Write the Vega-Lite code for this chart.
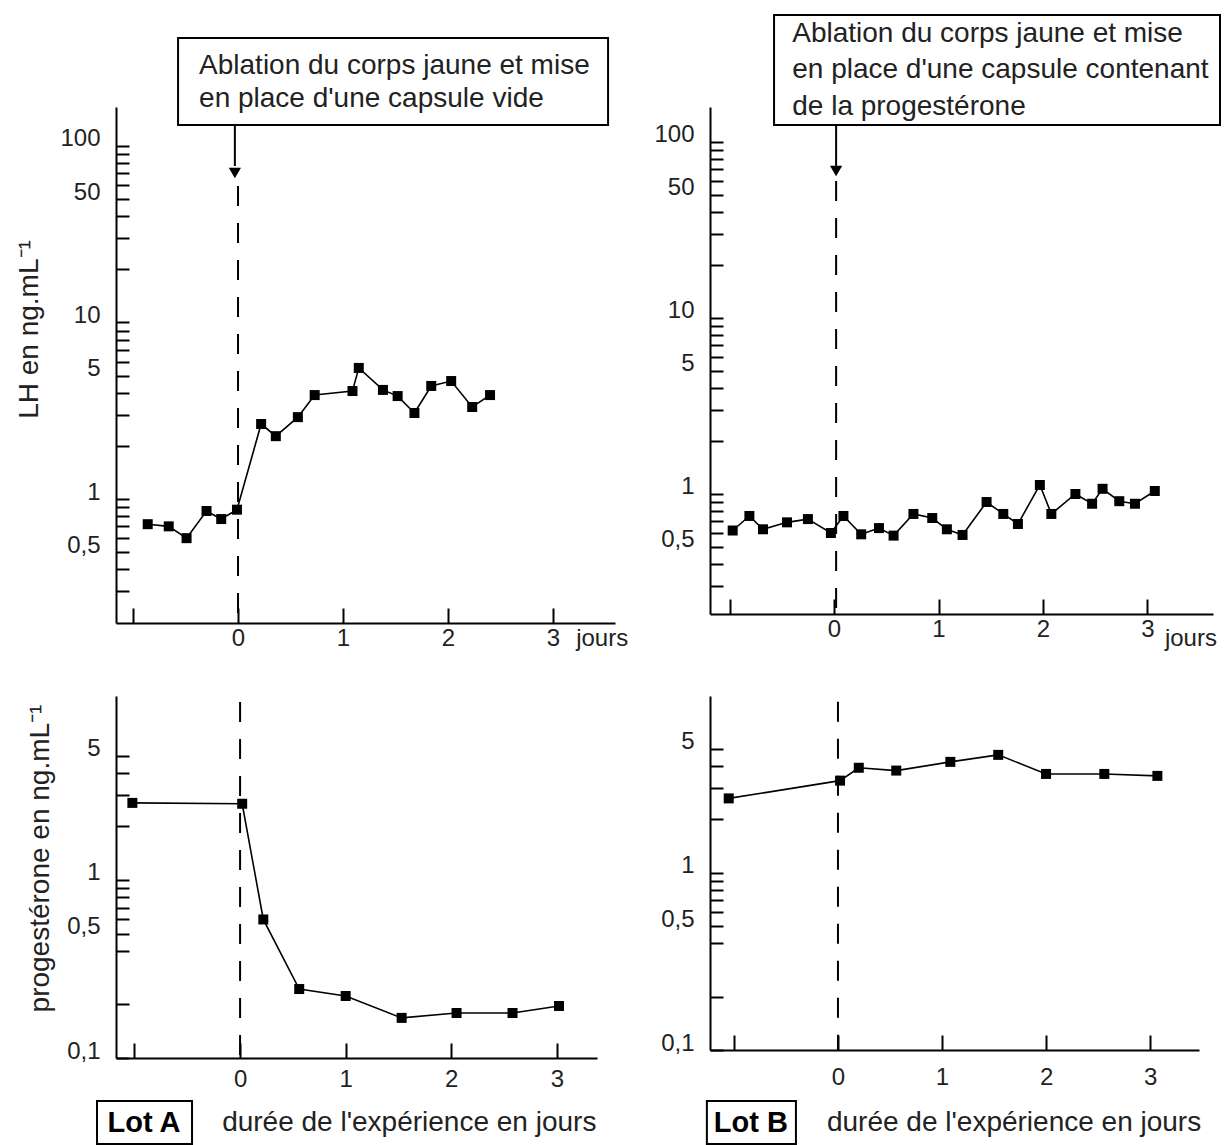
{
  "$schema": "https://vega.github.io/schema/vega-lite/v6.json",
  "background": "white",
  "padding": {"left": 15, "top": 13, "right": 0, "bottom": 0},
  "autosize": {"type": "pad"},
  "bounds": "flush",
  "columns": 2,
  "align": "all",
  "spacing": {"row": 73, "column": 91},
  "datasets": {
    "lhA": [
      {"jour": -0.86, "valeur": 0.72}, {"jour": -0.66, "valeur": 0.70}, {"jour": -0.49, "valeur": 0.60},
      {"jour": -0.30, "valeur": 0.855}, {"jour": -0.16, "valeur": 0.77}, {"jour": -0.01, "valeur": 0.87},
      {"jour": 0.22, "valeur": 2.66}, {"jour": 0.36, "valeur": 2.27}, {"jour": 0.57, "valeur": 2.91},
      {"jour": 0.73, "valeur": 3.88}, {"jour": 1.09, "valeur": 4.09}, {"jour": 1.15, "valeur": 5.53},
      {"jour": 1.38, "valeur": 4.15}, {"jour": 1.52, "valeur": 3.83}, {"jour": 1.68, "valeur": 3.07},
      {"jour": 1.84, "valeur": 4.37}, {"jour": 2.03, "valeur": 4.66}, {"jour": 2.23, "valeur": 3.32},
      {"jour": 2.40, "valeur": 3.88}
    ],
    "lhB": [
      {"jour": -0.97, "valeur": 0.62}, {"jour": -0.81, "valeur": 0.75}, {"jour": -0.68, "valeur": 0.63},
      {"jour": -0.45, "valeur": 0.69}, {"jour": -0.25, "valeur": 0.72}, {"jour": -0.03, "valeur": 0.60},
      {"jour": 0.09, "valeur": 0.75}, {"jour": 0.26, "valeur": 0.59}, {"jour": 0.43, "valeur": 0.64},
      {"jour": 0.57, "valeur": 0.58}, {"jour": 0.76, "valeur": 0.77}, {"jour": 0.94, "valeur": 0.73},
      {"jour": 1.08, "valeur": 0.63}, {"jour": 1.23, "valeur": 0.585}, {"jour": 1.46, "valeur": 0.90},
      {"jour": 1.62, "valeur": 0.77}, {"jour": 1.76, "valeur": 0.675}, {"jour": 1.97, "valeur": 1.125},
      {"jour": 2.08, "valeur": 0.77}, {"jour": 2.31, "valeur": 1.0}, {"jour": 2.47, "valeur": 0.88},
      {"jour": 2.57, "valeur": 1.07}, {"jour": 2.73, "valeur": 0.91}, {"jour": 2.88, "valeur": 0.88},
      {"jour": 3.07, "valeur": 1.04}
    ],
    "progA": [
      {"jour": -1.02, "valeur": 2.71}, {"jour": 0.02, "valeur": 2.68}, {"jour": 0.22, "valeur": 0.60},
      {"jour": 0.56, "valeur": 0.244}, {"jour": 1.0, "valeur": 0.223}, {"jour": 1.53, "valeur": 0.168},
      {"jour": 2.05, "valeur": 0.179}, {"jour": 2.58, "valeur": 0.179}, {"jour": 3.02, "valeur": 0.196}
    ],
    "progB": [
      {"jour": -1.05, "valeur": 2.62}, {"jour": 0.02, "valeur": 3.3}, {"jour": 0.2, "valeur": 3.9},
      {"jour": 0.56, "valeur": 3.76}, {"jour": 1.08, "valeur": 4.21}, {"jour": 1.54, "valeur": 4.61},
      {"jour": 2.0, "valeur": 3.6}, {"jour": 2.56, "valeur": 3.6}, {"jour": 3.07, "valeur": 3.51}
    ]
  },
  "config": {
    "view": {"stroke": null},
    "axis": {
      "grid": false, "domainColor": "black", "domainWidth": 2, "tickColor": "black", "tickWidth": 2,
      "labelFont": "Liberation Sans", "labelFontSize": 24, "labelColor": "#222",
      "titleFont": "Liberation Sans", "titleFontSize": 28, "titleFontWeight": "normal", "titleColor": "#222",
      "labelOverlap": false, "labelBound": false, "labelFlush": false
    },
    "axisX": {"tickSize": -15, "labelPadding": 18},
    "axisY": {"tickSize": -13, "labelPadding": 29, "labelBaseline": "alphabetic", "titleBaseline": "middle", "titleAlign": "center"},
    "text": {"font": "Liberation Sans", "fontSize": 28, "color": "#222"}
  },
  "concat": [
    {
      "width": 499, "height": 516,
      "layer": [
        {
          "data": {"name": "lhA"},
          "mark": {"type": "line", "color": "black", "strokeWidth": 1.6},
          "encoding": {
            "x": {"field": "jour", "type": "quantitative", "scale": {"domain": [-1.162, 3.59], "nice": false, "zero": false},
                  "axis": {"values": [-1, 0, 1, 2, 3], "labelExpr": "datum.value < 0 ? '' : format(datum.value, 'd')", "title": null}},
            "y": {"field": "valeur", "type": "quantitative", "scale": {"type": "log", "domain": [0.1984, 166.3], "nice": false},
                  "axis": {"values": [0.3, 0.4, 0.5, 0.6, 0.7, 0.8, 0.9, 1, 2, 3, 4, 5, 6, 7, 8, 9, 10, 20, 30, 40, 50, 60, 70, 80, 90, 100],
                           "labelExpr": "datum.value == 0.5 ? '0,5' : (datum.value == 1 || datum.value == 5 || datum.value == 10 || datum.value == 50 || datum.value == 100) ? format(datum.value, 'd') : ''",
                           "title": "LH en ng.mL⁻¹", "titleX": -87, "titleY": 222}}
          }
        },
        {
          "data": {"name": "lhA"},
          "mark": {"type": "point", "shape": "square", "filled": true, "size": 100, "color": "black", "opacity": 1},
          "encoding": {"x": {"field": "jour", "type": "quantitative"}, "y": {"field": "valeur", "type": "quantitative"}}
        },
        {
          "data": {"values": [{}]},
          "mark": {"type": "rule", "color": "black", "strokeWidth": 2, "strokeDash": [20, 17]},
          "encoding": {"x": {"datum": 0}, "y": {"datum": 59.3}, "y2": {"datum": 0.1984}}
        },
        {
          "data": {"values": [{}]},
          "mark": {"type": "rect", "fill": "white", "stroke": "black", "strokeWidth": 2},
          "encoding": {"x": {"datum": -0.571}, "x2": {"datum": 3.524}, "y": {"datum": 409}, "y2": {"datum": 131.5}}
        },
        {
          "data": {"values": [{}]},
          "mark": {"type": "text", "text": ["Ablation du corps jaune et mise", "en place d'une capsule vide"], "lineHeight": 33, "align": "left", "baseline": "middle"},
          "encoding": {"x": {"datum": -0.371}, "y": {"datum": 284}}
        },
        {
          "data": {"values": [{}]},
          "mark": {"type": "rule", "color": "black", "strokeWidth": 2},
          "encoding": {"x": {"datum": -0.03}, "y": {"datum": 131.5}, "y2": {"datum": 77}}
        },
        {
          "data": {"values": [{}]},
          "mark": {"type": "point", "shape": "triangle-down", "filled": true, "size": 150, "color": "black", "opacity": 1},
          "encoding": {"x": {"datum": -0.03}, "y": {"datum": 70.3}}
        },
        {
          "data": {"values": [{}]},
          "mark": {"type": "text", "text": "jours", "align": "left", "baseline": "middle", "fontSize": 24},
          "encoding": {"x": {"datum": 3.22}, "y": {"datum": 0.161}}
        }
      ]
    },
    {
      "width": 503, "height": 507,
      "layer": [
        {
          "data": {"name": "lhB"},
          "mark": {"type": "line", "color": "black", "strokeWidth": 1.6},
          "encoding": {
            "x": {"field": "jour", "type": "quantitative", "scale": {"domain": [-1.187, 3.627], "nice": false, "zero": false},
                  "axis": {"values": [-1, 0, 1, 2, 3], "labelExpr": "datum.value < 0 ? '' : format(datum.value, 'd')", "title": null}},
            "y": {"field": "valeur", "type": "quantitative", "scale": {"type": "log", "domain": [0.208, 158], "nice": false},
                  "axis": {"values": [0.3, 0.4, 0.5, 0.6, 0.7, 0.8, 0.9, 1, 2, 3, 4, 5, 6, 7, 8, 9, 10, 20, 30, 40, 50, 60, 70, 80, 90, 100],
                           "labelExpr": "datum.value == 0.5 ? '0,5' : (datum.value == 1 || datum.value == 5 || datum.value == 10 || datum.value == 50 || datum.value == 100) ? format(datum.value, 'd') : ''",
                           "title": null}}
          }
        },
        {
          "data": {"name": "lhB"},
          "mark": {"type": "point", "shape": "square", "filled": true, "size": 100, "color": "black", "opacity": 1},
          "encoding": {"x": {"field": "jour", "type": "quantitative"}, "y": {"field": "valeur", "type": "quantitative"}}
        },
        {
          "data": {"values": [{}]},
          "mark": {"type": "rule", "color": "black", "strokeWidth": 2, "strokeDash": [20, 17]},
          "encoding": {"x": {"datum": 0.02}, "y": {"datum": 60}, "y2": {"datum": 0.208}}
        },
        {
          "data": {"values": [{}]},
          "mark": {"type": "rect", "fill": "white", "stroke": "black", "strokeWidth": 2},
          "encoding": {"x": {"datum": -0.574}, "x2": {"datum": 3.694}, "y": {"datum": 526.8}, "y2": {"datum": 124.9}}
        },
        {
          "data": {"values": [{}]},
          "mark": {"type": "text", "text": ["Ablation du corps jaune et mise", "en place d'une capsule contenant", "de la progestérone"], "lineHeight": 36.5, "align": "left", "baseline": "middle"},
          "encoding": {"x": {"datum": -0.40}, "y": {"datum": 410.9}}
        },
        {
          "data": {"values": [{}]},
          "mark": {"type": "rule", "color": "black", "strokeWidth": 2},
          "encoding": {"x": {"datum": 0.02}, "y": {"datum": 124.9}, "y2": {"datum": 73.1}}
        },
        {
          "data": {"values": [{}]},
          "mark": {"type": "point", "shape": "triangle-down", "filled": true, "size": 150, "color": "black", "opacity": 1},
          "encoding": {"x": {"datum": 0.02}, "y": {"datum": 68.4}}
        },
        {
          "data": {"values": [{}]},
          "mark": {"type": "text", "text": "jours", "align": "left", "baseline": "middle", "fontSize": 24},
          "encoding": {"x": {"datum": 3.167}, "y": {"datum": 0.15}}
        }
      ]
    },
    {
      "width": 481, "height": 362,
      "layer": [
        {
          "data": {"name": "progA"},
          "mark": {"type": "line", "color": "black", "strokeWidth": 1.6},
          "encoding": {
            "x": {"field": "jour", "type": "quantitative", "scale": {"domain": [-1.175, 3.38], "nice": false, "zero": false},
                  "axis": {"values": [-1, 0, 1, 2, 3], "labelExpr": "datum.value < 0 ? '' : format(datum.value, 'd')", "title": null, "labelPadding": 24}},
            "y": {"field": "valeur", "type": "quantitative", "scale": {"type": "log", "domain": [0.1, 10.8], "nice": false},
                  "axis": {"values": [0.1, 0.2, 0.4, 0.5, 0.6, 0.7, 0.8, 0.9, 1, 2, 3, 4, 5],
                           "labelExpr": "datum.value == 0.5 ? '0,5' : datum.value == 0.1 ? '0,1' : (datum.value == 1 || datum.value == 5) ? format(datum.value, 'd') : ''",
                           "title": "progestérone en ng.mL⁻¹", "titleX": -76, "titleY": 162}}
          }
        },
        {
          "data": {"name": "progA"},
          "mark": {"type": "point", "shape": "square", "filled": true, "size": 100, "color": "black", "opacity": 1},
          "encoding": {"x": {"field": "jour", "type": "quantitative"}, "y": {"field": "valeur", "type": "quantitative"}}
        },
        {
          "data": {"values": [{}]},
          "mark": {"type": "rule", "color": "black", "strokeWidth": 2, "strokeDash": [20, 17]},
          "encoding": {"x": {"datum": 0}, "y": {"datum": 10.0}, "y2": {"datum": 0.1}}
        },
        {
          "data": {"values": [{}]},
          "mark": {"type": "rect", "fill": "white", "stroke": "black", "strokeWidth": 2},
          "encoding": {"x": {"datum": -1.355}, "x2": {"datum": -0.455}, "y": {"datum": 0.0573}, "y2": {"datum": 0.0329}}
        },
        {
          "data": {"values": [{}]},
          "mark": {"type": "text", "text": "Lot A", "align": "center", "baseline": "middle", "fontWeight": "bold", "fontSize": 29, "color": "black"},
          "encoding": {"x": {"datum": -0.91}, "y": {"datum": 0.0431}}
        },
        {
          "data": {"values": [{}]},
          "mark": {"type": "text", "text": "durée de l'expérience en jours", "align": "left", "baseline": "middle"},
          "encoding": {"x": {"datum": -0.17}, "y": {"datum": 0.0431}}
        }
      ]
    },
    {
      "width": 489, "height": 354,
      "layer": [
        {
          "data": {"name": "progB"},
          "mark": {"type": "line", "color": "black", "strokeWidth": 1.6},
          "encoding": {
            "x": {"field": "jour", "type": "quantitative", "scale": {"domain": [-1.23, 3.47], "nice": false, "zero": false},
                  "axis": {"values": [-1, 0, 1, 2, 3], "labelExpr": "datum.value < 0 ? '' : format(datum.value, 'd')", "title": null, "labelPadding": 30}},
            "y": {"field": "valeur", "type": "quantitative", "scale": {"type": "log", "domain": [0.1, 9.9], "nice": false},
                  "axis": {"values": [0.1, 0.2, 0.4, 0.5, 0.6, 0.7, 0.8, 0.9, 1, 2, 3, 4, 5],
                           "labelExpr": "datum.value == 0.5 ? '0,5' : datum.value == 0.1 ? '0,1' : (datum.value == 1 || datum.value == 5) ? format(datum.value, 'd') : ''",
                           "title": null}}
          }
        },
        {
          "data": {"name": "progB"},
          "mark": {"type": "point", "shape": "square", "filled": true, "size": 100, "color": "black", "opacity": 1},
          "encoding": {"x": {"field": "jour", "type": "quantitative"}, "y": {"field": "valeur", "type": "quantitative"}}
        },
        {
          "data": {"values": [{}]},
          "mark": {"type": "rule", "color": "black", "strokeWidth": 2, "strokeDash": [20, 17]},
          "encoding": {"x": {"datum": 0}, "y": {"datum": 9.2}, "y2": {"datum": 0.1}}
        },
        {
          "data": {"values": [{}]},
          "mark": {"type": "rect", "fill": "white", "stroke": "black", "strokeWidth": 2},
          "encoding": {"x": {"datum": -1.26}, "x2": {"datum": -0.404}, "y": {"datum": 0.0515}, "y2": {"datum": 0.02955}}
        },
        {
          "data": {"values": [{}]},
          "mark": {"type": "text", "text": "Lot B", "align": "center", "baseline": "middle", "fontWeight": "bold", "fontSize": 29, "color": "black"},
          "encoding": {"x": {"datum": -0.837}, "y": {"datum": 0.0388}}
        },
        {
          "data": {"values": [{}]},
          "mark": {"type": "text", "text": "durée de l'expérience en jours", "align": "left", "baseline": "middle"},
          "encoding": {"x": {"datum": -0.106}, "y": {"datum": 0.0388}}
        }
      ]
    }
  ]
}
